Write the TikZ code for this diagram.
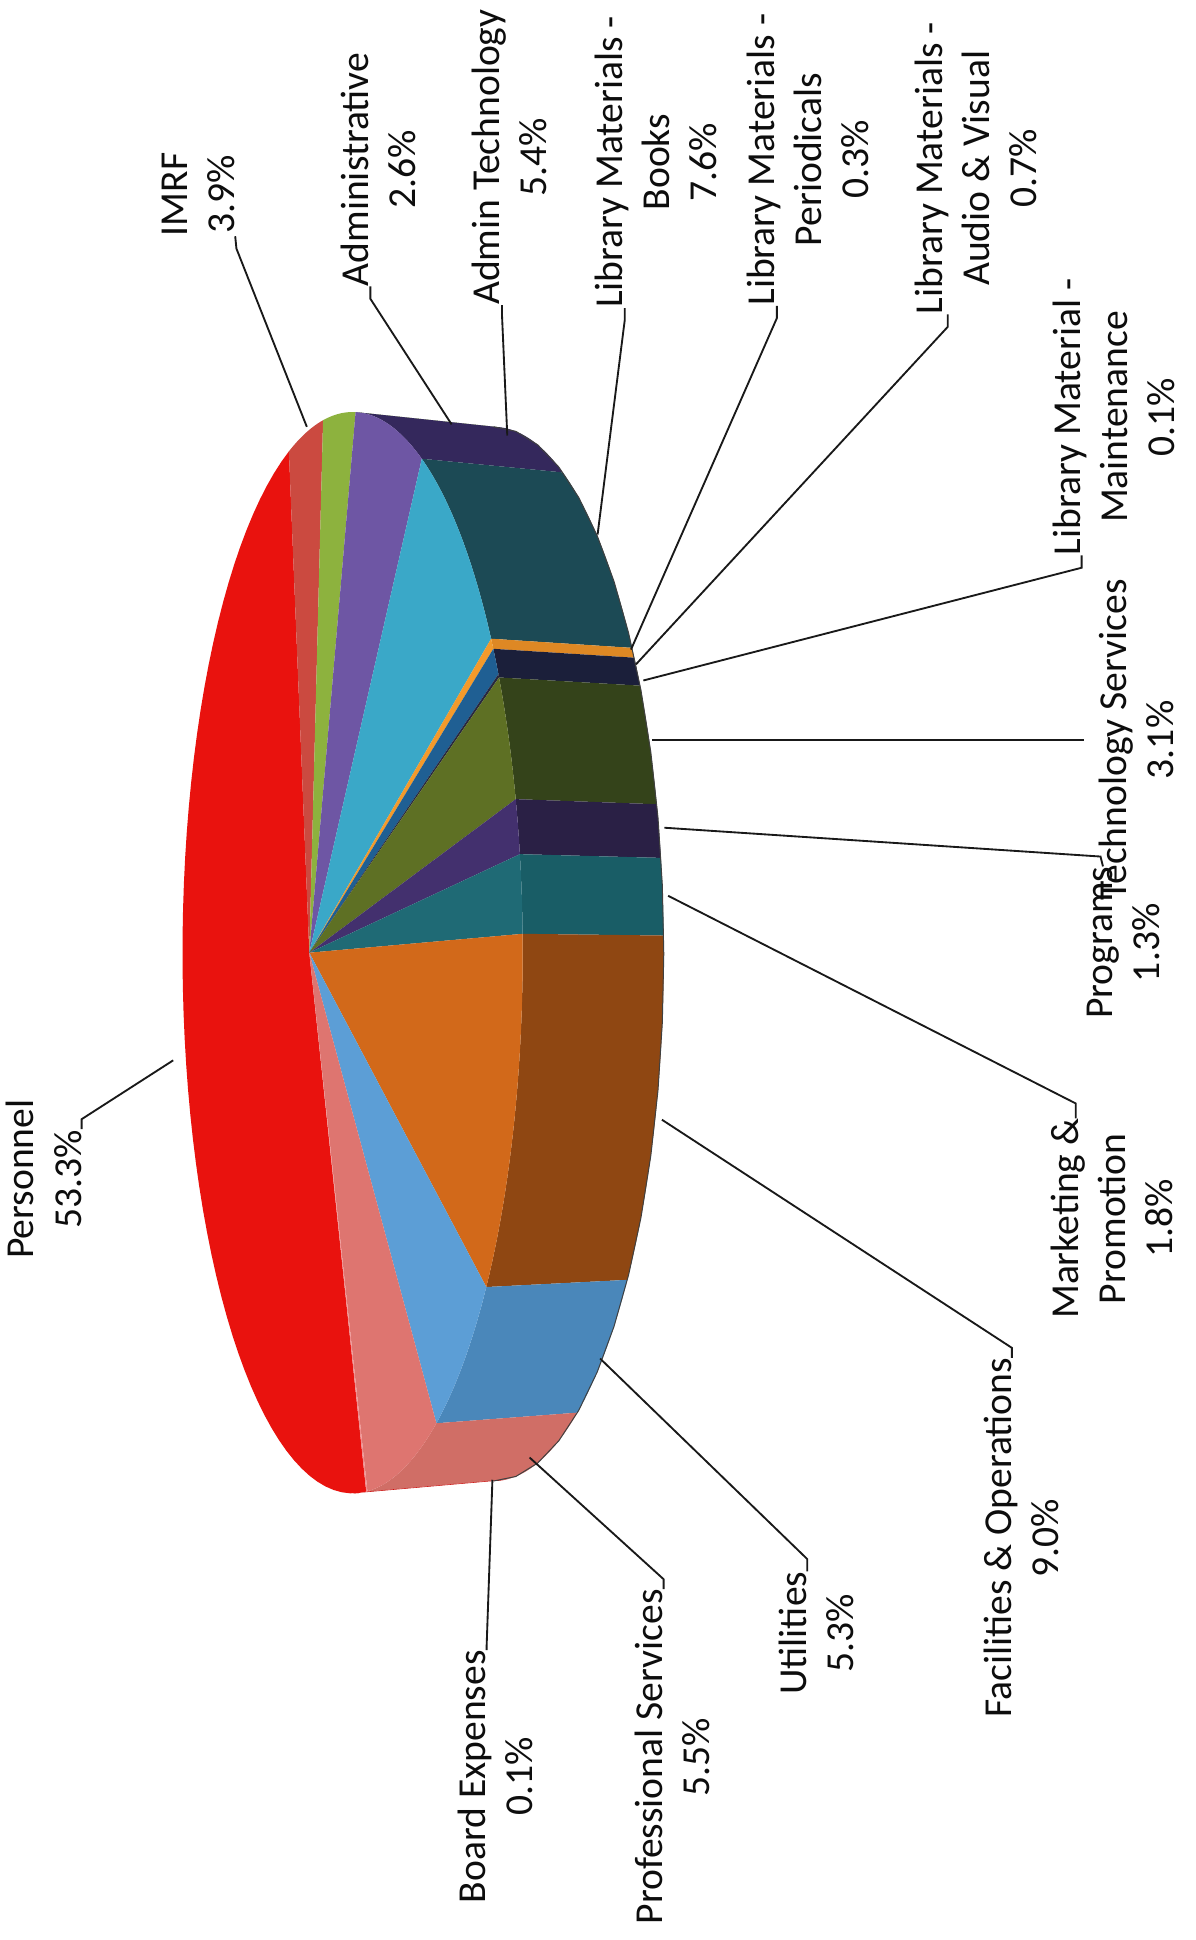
\documentclass[tikz,border=0pt]{standalone}
\usepackage{fontspec}
\setmainfont{Carlito}
\usepackage{xcolor}
\usepackage{tikz}

\definecolor{persTop}{RGB}{233,18,14}
\definecolor{persSide}{RGB}{200,15,12}
\definecolor{imrfTop}{RGB}{203,74,64}
\definecolor{admTop}{RGB}{141,178,62}
\definecolor{admSide}{RGB}{100,130,45}
\definecolor{atTop}{RGB}{110,86,164}
\definecolor{atSide}{RGB}{52,40,92}
\definecolor{bookTop}{RGB}{58,168,200}
\definecolor{bookSide}{RGB}{28,74,85}
\definecolor{perTop}{RGB}{243,154,43}
\definecolor{perSide}{RGB}{222,136,36}
\definecolor{avTop}{RGB}{31,95,147}
\definecolor{avSide}{RGB}{27,31,58}
\definecolor{mntTop}{RGB}{40,40,64}
\definecolor{tsTop}{RGB}{94,112,36}
\definecolor{tsSide}{RGB}{52,67,26}
\definecolor{prgTop}{RGB}{67,48,110}
\definecolor{prgSide}{RGB}{42,32,69}
\definecolor{mktTop}{RGB}{31,106,117}
\definecolor{mktSide}{RGB}{25,93,102}
\definecolor{facTop}{RGB}{210,105,26}
\definecolor{facSide}{RGB}{143,71,18}
\definecolor{utlTop}{RGB}{92,158,214}
\definecolor{utlSide}{RGB}{74,135,186}
\definecolor{proTop}{RGB}{222,117,112}
\definecolor{proSide}{RGB}{208,110,102}
\definecolor{brdTop}{RGB}{240,140,140}

\begin{document}
\begin{tikzpicture}[x=1pt, y=-1pt,
    lbl/.style={rotate=90, align=center, inner sep=0pt, text=black!95, font=\fontsize{32}{38}\selectfont},
    leader/.style={draw=black!90, line width=1.5pt},
    declare function={tx(\x)=285+137.5*cos(\x); ty(\x)=770+437*sin(\x);
                      bx(\x)=399+137.5*cos(\x); by(\x)=771+426*sin(\x);}]
    \path[use as bounding box, fill=white] (0,0) rectangle (966,1568);
    \coordinate (apex) at (250,770);

    \fill[admSide] plot[domain=-90:-89] ({tx(\x)},{ty(\x)}) -- plot[domain=-89:-90] ({bx(\x)},{by(\x)}) -- cycle;
    \fill[atSide] plot[domain=-89:-66] ({tx(\x)},{ty(\x)}) -- plot[domain=-66:-89] ({bx(\x)},{by(\x)}) -- cycle;
    \fill[bookSide] plot[domain=-66:-35.5] ({tx(\x)},{ty(\x)}) -- plot[domain=-35.5:-66] ({bx(\x)},{by(\x)}) -- cycle;
    \fill[perSide] plot[domain=-35.5:-34.2] ({tx(\x)},{ty(\x)}) -- plot[domain=-34.2:-35.5] ({bx(\x)},{by(\x)}) -- cycle;
    \fill[avSide] plot[domain=-34.2:-30.6] ({tx(\x)},{ty(\x)}) -- plot[domain=-30.6:-34.2] ({bx(\x)},{by(\x)}) -- cycle;
    \fill[tsSide] plot[domain=-30.6:-16.5] ({tx(\x)},{ty(\x)}) -- plot[domain=-16.5:-30.6] ({bx(\x)},{by(\x)}) -- cycle;
    \fill[prgSide] plot[domain=-16.5:-10.5] ({tx(\x)},{ty(\x)}) -- plot[domain=-10.5:-16.5] ({bx(\x)},{by(\x)}) -- cycle;
    \fill[mktSide] plot[domain=-10.5:-2] ({tx(\x)},{ty(\x)}) -- plot[domain=-2:-10.5] ({bx(\x)},{by(\x)}) -- cycle;
    \fill[facSide] plot[domain=-2:38.2] ({tx(\x)},{ty(\x)}) -- plot[domain=38.2:-2] ({bx(\x)},{by(\x)}) -- cycle;
    \fill[utlSide] plot[domain=38.2:60.5] ({tx(\x)},{ty(\x)}) -- plot[domain=60.5:38.2] ({bx(\x)},{by(\x)}) -- cycle;
    \fill[proSide] plot[domain=60.5:85.4] ({tx(\x)},{ty(\x)}) -- plot[domain=85.4:60.5] ({bx(\x)},{by(\x)}) -- cycle;
    \fill[persSide] plot[domain=85.4:90] ({tx(\x)},{ty(\x)}) -- plot[domain=90:85.4] ({bx(\x)},{by(\x)}) -- cycle;
    \draw[black!75, line width=0.8pt] plot[domain=-90:90] ({bx(\x)},{by(\x)});

    \fill[persTop] (apex) -- plot[domain=85.4:248, samples=60] ({tx(\x)},{ty(\x)}) -- cycle;
    \fill[imrfTop] (apex) -- plot[domain=-112:-100] ({tx(\x)},{ty(\x)}) -- cycle;
    \fill[admTop] (apex) -- plot[domain=-100:-89] ({tx(\x)},{ty(\x)}) -- cycle;
    \fill[atTop] (apex) -- plot[domain=-89:-66] ({tx(\x)},{ty(\x)}) -- cycle;
    \fill[bookTop] (apex) -- plot[domain=-66:-35.5] ({tx(\x)},{ty(\x)}) -- cycle;
    \fill[perTop] (apex) -- plot[domain=-35.5:-34.2] ({tx(\x)},{ty(\x)}) -- cycle;
    \fill[avTop] (apex) -- plot[domain=-34.2:-31] ({tx(\x)},{ty(\x)}) -- cycle;
    \fill[mntTop] (apex) -- plot[domain=-31:-30.6] ({tx(\x)},{ty(\x)}) -- cycle;
    \fill[tsTop] (apex) -- plot[domain=-30.6:-16.5] ({tx(\x)},{ty(\x)}) -- cycle;
    \fill[prgTop] (apex) -- plot[domain=-16.5:-10.5] ({tx(\x)},{ty(\x)}) -- cycle;
    \fill[mktTop] (apex) -- plot[domain=-10.5:-2] ({tx(\x)},{ty(\x)}) -- cycle;
    \fill[facTop] (apex) -- plot[domain=-2:38.2] ({tx(\x)},{ty(\x)}) -- cycle;
    \fill[utlTop] (apex) -- plot[domain=38.2:60.5] ({tx(\x)},{ty(\x)}) -- cycle;
    \fill[proTop] (apex) -- plot[domain=60.5:85] ({tx(\x)},{ty(\x)}) -- cycle;
    \fill[brdTop] (apex) -- plot[domain=85:85.4] ({tx(\x)},{ty(\x)}) -- cycle;

    \node[lbl] (pers) at (35.5,953) {Personnel\\53.3\%};
    \node[lbl] (imrf) at (160.5,157) {IMRF\\3.9\%};
    \node[lbl] (adm) at (306,137) {Administrative\\2.6\%};
    \node[lbl] (admtech) at (412,127) {Admin Technology\\5.4\%};
    \node[lbl] (books) at (530,131) {Library Materials -\\Books\\7.6\%};
    \node[lbl] (period) at (653,129) {Library Materials -\\Periodicals\\0.3\%};
    \node[lbl] (av) at (789,136) {Library Materials -\\Audio \& Visual\\0.7\%};
    \node[lbl] (maint) at (900,337) {Library Material -\\Maintenance\\0.1\%};
    \node[lbl] (techserv) at (918.5,598) {Technology Services\\3.1\%};
    \node[lbl] (prog) at (908,762) {Programs\\1.3\%};
    \node[lbl] (market) at (899,985) {Marketing \&\\Promotion\\1.8\%};
    \node[lbl] (facil) at (825.5,1243) {Facilities \& Operations\\9.0\%};
    \node[lbl] (util) at (659.5,1320) {Utilities\\5.3\%};
    \node[lbl] (prof) at (543.5,1420) {Professional Services\\5.5\%};
    \node[lbl] (board) at (400.5,1436) {Board Expenses\\0.1\%};

    \coordinate (pers-p) at (140,857);
    \coordinate (imrf-p) at (248,345);
    \coordinate (adm-p) at (365,343);
    \coordinate (admtech-p) at (410,352);
    \coordinate (books-p) at (483,432);
    \coordinate (period-p) at (510,525);
    \coordinate (av-p) at (514,537);
    \coordinate (maint-p) at (520,550);
    \coordinate (techserv-p) at (527,598);
    \coordinate (prog-p) at (537,669);
    \coordinate (market-p) at (540,724);
    \coordinate (facil-p) at (535,905);
    \coordinate (util-p) at (485,1098);
    \coordinate (prof-p) at (428,1178);
    \coordinate (board-p) at (398,1196);

    \draw[leader] (pers.-37.5) -- ++(0,-8) -- (pers-p);
    \draw[leader] (imrf.south west) -- ++(1,10) -- (imrf-p);
    \draw[leader] (adm.176) -- ++(0,10) -- (adm-p);
    \draw[leader] (admtech.177) -- ++(0,8) -- (admtech-p);
    \draw[leader] (books.168) -- ++(0,10) -- (books-p);
    \draw[leader] (period.168) -- ++(0,10) -- (period-p);
    \draw[leader] (av.169) -- ++(0,10) -- (av-p);
    \draw[leader] (maint.167) -- ++(0,10) -- (maint-p);
    \draw[leader, shorten <=12pt] (techserv.north) -- (techserv-p);
    \draw[leader] (prog.15) -- ++(-2,-8) -- (prog-p);
    \draw[leader] (market.20) -- ++(0,-12) -- (market-p);
    \draw[leader] (facil.3) -- ++(0,-8) -- (facil-p);
    \draw[leader] (util.8.5) -- ++(0,-10) -- (util-p);
    \draw[leader] (prof.3) -- ++(0,-8) -- (prof-p);
    \draw[leader] (board.4) -- ++(0,-4) -- (board-p);
\end{tikzpicture}
\end{document}
